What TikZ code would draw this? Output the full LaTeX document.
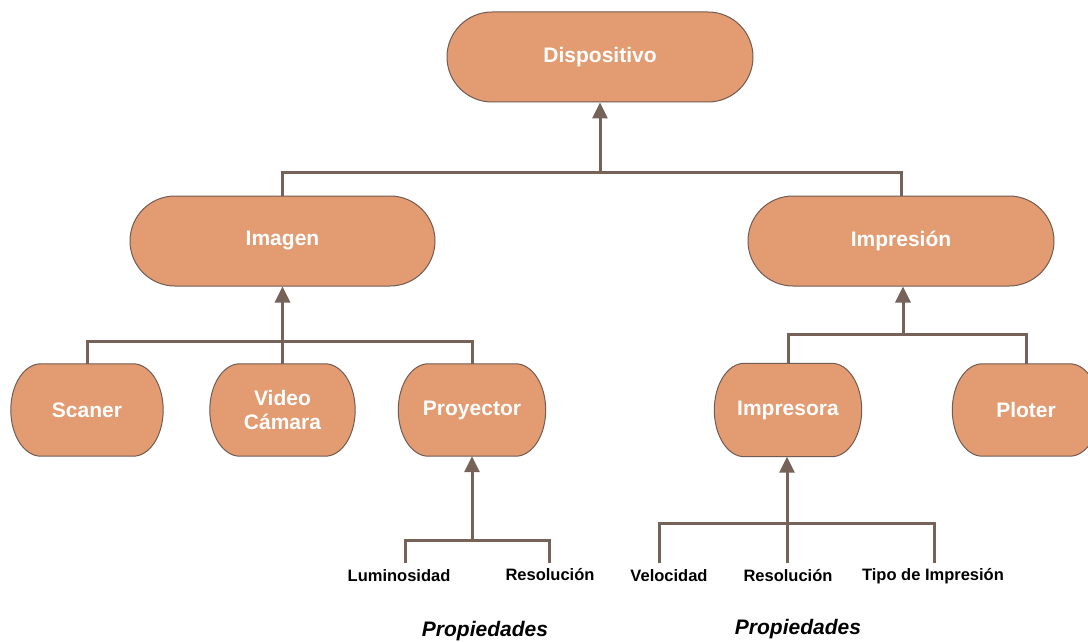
\documentclass[tikz,border=0pt]{standalone}
\usepackage{fontspec}
\setmainfont{Liberation Sans}
\usetikzlibrary{arrows.meta,shapes.misc,calc,backgrounds}
\definecolor{boxfill}{RGB}{227,155,114}
\definecolor{boxline}{RGB}{112,92,82}
\definecolor{wire}{RGB}{118,98,88}
\tikzset{
  label text/.style={text=white, font=\bfseries\fontsize{21}{24}\selectfont,
    align=center, inner sep=0pt},
  boxshape/.style={draw=boxline, line width=1pt, fill=boxfill},
  wide/.style={label text, boxshape, rounded rectangle,
    minimum width=306pt, minimum height=90pt},
  small/.style={label text, minimum width=147pt, minimum height=92pt},
  link/.style={draw=wire, line width=3pt},
  uplink/.style={link, -{Triangle[length=16pt,width=15pt]}},
  prop/.style={font=\bfseries\fontsize{16.5}{19}\selectfont, inner sep=0pt},
  caption/.style={font=\bfseries\itshape\fontsize{21}{24}\selectfont, inner sep=0pt}
}
% outline with half-elliptic ends around a named node
\newcommand\ovalbox[1]{%
  \path[boxshape] let \p1=(#1.north west), \p2=(#1.south east),
    \n1={(\y1-\y2)/2} in
    (\x1+30pt,\y1) arc[start angle=90, end angle=270, x radius=30pt, y radius=\n1]
    -- (\x2-30pt,\y2) arc[start angle=-90, end angle=90, x radius=30pt, y radius=\n1]
    -- cycle;}
\begin{document}
\begin{tikzpicture}[x=1pt,y=-1pt]
\useasboundingbox (0,0) rectangle (1088,642);
\clip (0,0) rectangle (1088,642);

% class hierarchy boxes
\node[wide] (disp) at (600,57) {Dispositivo};
\node[wide, minimum width=305pt] (imagen) at (282.5,241) {Imagen};
\node[wide] (impresion) at (901,241) {Impresión};
\node[small, minimum width=152pt] (scaner) at (87,410) {Scaner};
\node[small, minimum width=145pt] (video) at (282.5,410) {Video\\Cámara};
\node[small] (proyector) at (472,410) {Proyector};
\node[small, minimum height=93pt] (impresora) at (788,410) {Impresora};
\node[small] (ploter) at (1026,410) {Ploter};

\begin{scope}[on background layer]
  \foreach \b in {scaner,video,proyector,impresora,ploter} {\ovalbox{\b}}
\end{scope}

% property labels
\node[prop] (lum) at (399,576) {Luminosidad};
\node[prop] (resA) at (550,575) {Resolución};
\node[prop] (vel) at (669,576) {Velocidad};
\node[prop] (resB) at (788,576) {Resolución};
\node[prop] (tipo) at (933,576) {Tipo de Impresión};
\node[caption] (propA) at (485,631) {Propiedades};
\node[caption] (propB) at (798,629) {Propiedades};

% junction points and line ends
\coordinate (j0) at (600,172);
\coordinate (j1) at (282.5,341);
\coordinate (j2) at (903,334);
\coordinate (j3) at (472,540);
\coordinate (j4) at (787,523);
\coordinate (l1) at (405,563);
\coordinate (l2) at (549,563);
\coordinate (r1) at (659,563);
\coordinate (r2) at (787,563);
\coordinate (r3) at (934,563);

% Dispositivo
\draw[link] (imagen.north) |- (j0) -| (impresion.north);
\draw[uplink] (j0) -- (disp.south);

% Imagen
\draw[link] (scaner.north) |- (j1) -| (proyector.north);
\draw[uplink] (video.north) -- (imagen.south);

% Impresion
\draw[link] (impresora.north) |- (j2) -| (ploter.north);
\draw[uplink] (j2) -- (j2 |- impresion.south);

% Proyector properties
\draw[link] (l1) |- (j3) -| (l2);
\draw[uplink] (j3) -- (proyector.south);

% Impresora properties
\draw[link] (r1) |- (j4) -| (r3);
\draw[uplink] (r2) -- (r2 |- impresora.south);
\end{tikzpicture}
\end{document}
